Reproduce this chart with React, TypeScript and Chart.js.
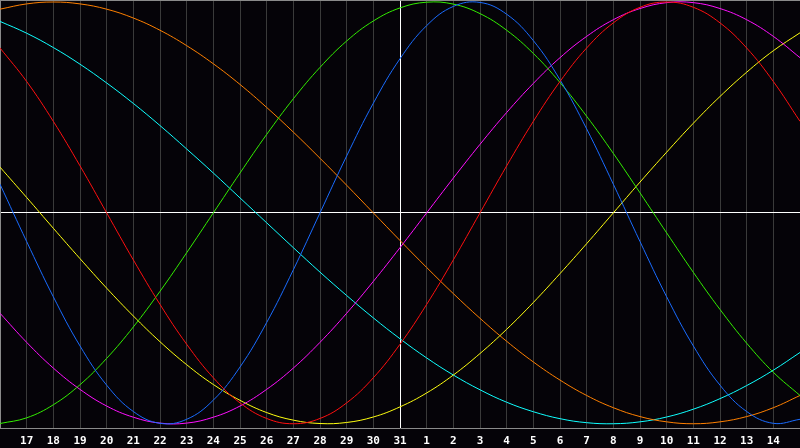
import { useEffect, useRef } from 'react';
import { Chart, registerables } from 'chart.js';

Chart.register(...registerables);

// day labels, blank slot at each edge of the plot
const days = ['', '17', '18', '19', '20', '21', '22', '23', '24', '25', '26', '27', '28', '29', '30', '31',
  '1', '2', '3', '4', '5', '6', '7', '8', '9', '10', '11', '12', '13', '14', ''];

const todayIndex = 15;

const red = [0.782, 0.623, 0.434, 0.223, 0, -0.223, -0.434, -0.623, -0.782, -0.901, -0.975, -1, -0.975, -0.901, -0.782, -0.623,
  -0.434, -0.223, 0, 0.223, 0.434, 0.623, 0.782, 0.901, 0.975, 1, 0.975, 0.901, 0.782, 0.623, 0.434];
const blue = [0.136, -0.136, -0.398, -0.631, -0.817, -0.942, -0.998, -0.979, -0.888, -0.731, -0.52, -0.27, 0, 0.27, 0.52, 0.731,
  0.888, 0.979, 0.998, 0.942, 0.817, 0.631, 0.398, 0.136, -0.136, -0.398, -0.631, -0.817, -0.942, -0.998, -0.979];
const green = [-0.999, -0.972, -0.91, -0.815, -0.69, -0.541, -0.372, -0.189, 0, 0.189, 0.372, 0.541, 0.69, 0.815, 0.91, 0.972,
  0.999, 0.99, 0.945, 0.866, 0.756, 0.618, 0.458, 0.282, 0.095, -0.095, -0.282, -0.458, -0.618, -0.756, -0.866];
const magenta = [-0.476, -0.614, -0.736, -0.837, -0.916, -0.969, -0.997, -0.997, -0.969, -0.916, -0.837, -0.736, -0.614, -0.476, -0.325, -0.165,
  0, 0.165, 0.325, 0.476, 0.614, 0.736, 0.837, 0.916, 0.969, 0.997, 0.997, 0.969, 0.916, 0.837, 0.736];
const yellow = [0.217, 0.073, -0.073, -0.217, -0.357, -0.489, -0.611, -0.72, -0.814, -0.889, -0.947, -0.983, -0.999, -0.994, -0.968, -0.92,
  -0.854, -0.769, -0.667, -0.552, -0.425, -0.288, -0.146, 0, 0.146, 0.288, 0.425, 0.552, 0.667, 0.769, 0.854];
const orange = [0.966, 0.991, 1, 0.991, 0.966, 0.924, 0.866, 0.793, 0.707, 0.609, 0.5, 0.383, 0.259, 0.131, 0, -0.131,
  -0.259, -0.383, -0.5, -0.609, -0.707, -0.793, -0.866, -0.924, -0.966, -0.991, -1, -0.991, -0.966, -0.924, -0.866];
const cyan = [0.908, 0.852, 0.784, 0.705, 0.616, 0.519, 0.414, 0.303, 0.189, 0.071, -0.047, -0.165, -0.281, -0.392, -0.498, -0.597,
  -0.688, -0.769, -0.839, -0.898, -0.943, -0.976, -0.995, -1, -0.991, -0.968, -0.931, -0.881, -0.819, -0.746, -0.662];

const yMin = -1.024;
const yMax = 1.0095;

export default function App() {
  const chartRef = useRef<HTMLCanvasElement>(null);
  const chartInstance = useRef<Chart | null>(null);

  useEffect(() => {
    document.body.style.margin = '0';
    if (!chartRef.current) return;
    if (chartInstance.current) chartInstance.current.destroy();
    const ctx = chartRef.current.getContext('2d');
    if (!ctx) return;

    const line = (data: number[], color: string) => ({
      data,
      borderColor: color,
      borderWidth: 1,
      pointRadius: 0,
      fill: false,
      tension: 0.4,
    });

    chartInstance.current = new Chart(ctx, {
      type: 'line',
      data: {
        labels: days,
        datasets: [
          line(red, '#ff1010'),
          line(blue, '#1a6cff'),
          line(green, '#33ee00'),
          line(magenta, '#ff10ff'),
          line(yellow, '#ffff10'),
          line(orange, '#ff8000'),
          line(cyan, '#10ffff'),
        ],
      },
      options: {
        animation: false,
        responsive: true,
        maintainAspectRatio: false,
        layout: { padding: { left: 0, right: 0, top: 0, bottom: -6 } },
        plugins: {
          legend: { display: false },
          tooltip: { enabled: false },
        },
        scales: {
          x: {
            offset: false,
            afterFit: (axis: any) => {
              axis.paddingLeft = 0;
              axis.paddingRight = 0;
            },
            grid: {
              drawTicks: false,
              color: (c: any) => (c.index === todayIndex ? '#ffffff' : c.index === 0 ? '#8a8a8a' : '#3a3a3a'),
            },
            border: { display: true, color: '#8a8a8a' },
            ticks: {
              autoSkip: false,
              maxRotation: 0,
              padding: 6,
              color: '#ffffff',
              font: { family: 'DejaVu Sans Mono', size: 11, weight: 'bold' },
            },
          },
          y: {
            min: yMin,
            max: yMax,
            afterBuildTicks: (axis: any) => {
              axis.ticks = [{ value: 0 }, { value: yMax }];
            },
            afterFit: (axis: any) => {
              axis.width = 0;
            },
            grid: {
              drawTicks: false,
              color: (c: any) => (c.tick && c.tick.value === 0 ? '#ffffff' : '#8a8a8a'),
            },
            border: { display: true, color: '#8a8a8a' },
            ticks: { display: false },
          },
        },
      },
    });

    return () => {
      if (chartInstance.current) {
        chartInstance.current.destroy();
        chartInstance.current = null;
      }
    };
  }, []);

  return (
    <div style={{ width: 800, height: 448, background: '#050308' }}>
      <canvas ref={chartRef} />
    </div>
  );
}
